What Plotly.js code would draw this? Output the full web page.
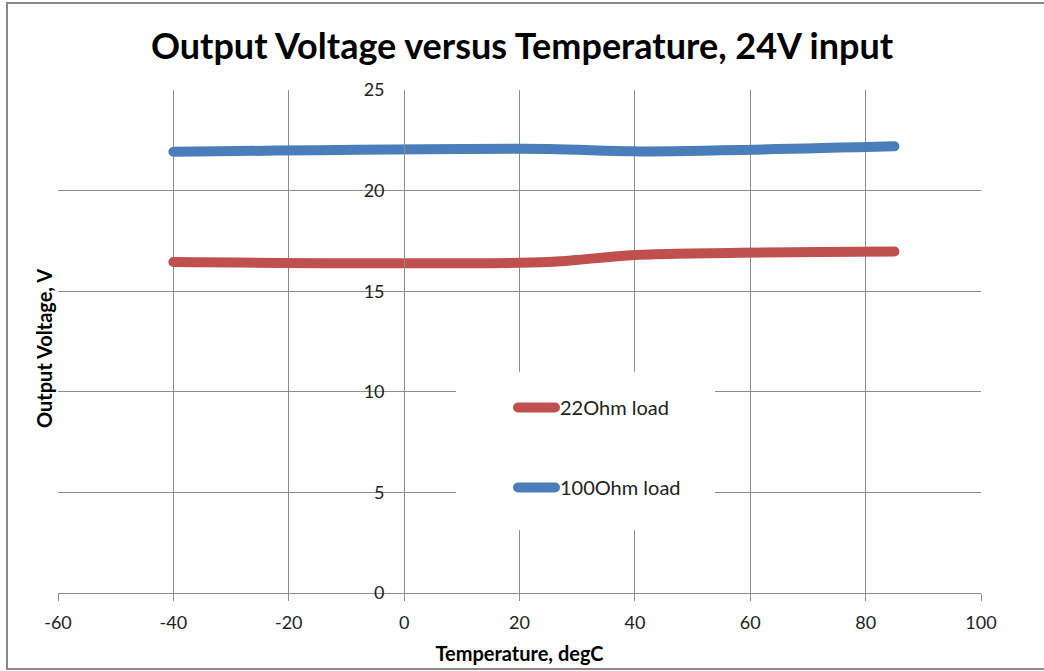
<!DOCTYPE html>
<html>
<head>
<meta charset="utf-8">
<script src="https://cdn.plot.ly/plotly-3.0.1.min.js"></script>
<style>
html,body{margin:0;padding:0;background:#fff;}
#chart{width:1044px;height:671px;}
#chart .scatterlayer .js-line, #chart .legendlines path{stroke-linecap:round;stroke-linejoin:round;}
</style>
</head>
<body>
<div id="chart"></div>
<script>
const temperature = [-40, 25, 40, 85];
const load22 = [16.45, 16.45, 16.8, 16.97];
const load100 = [21.93, 22.07, 21.95, 22.2];
const seriesNames = ["22Ohm load", "100Ohm load"];
const xTicks = [-60, -40, -20, 0, 20, 40, 60, 80, 100];
const xTickLabels = ["-60", "-40", "-20", "0", "20", "40", "60", "80", "100"];
const yTicks = [0, 5, 10, 15, 20, 25];

const FONT = "Lato, 'Open Sans', sans-serif";
const grid = "#8c8c8c";

const traces = [
  {x: temperature, y: load22, name: seriesNames[0], mode: "lines",
   line: {color: "#C0504D", width: 10, shape: "spline", smoothing: 0.8}, legendgroup: "a"},
  {x: temperature, y: load100, name: seriesNames[1], mode: "lines",
   line: {color: "#4A7EBB", width: 10, shape: "spline", smoothing: 0.8}, legendgroup: "b"}
];

const layout = {
  width: 1044, height: 671,
  margin: {l: 58, r: 63, t: 90, b: 78},
  paper_bgcolor: "#fff", plot_bgcolor: "#fff",
  font: {family: FONT, color: "#222"},
  title: {text: "<b>Output Voltage versus Temperature, 24V input</b>", font: {family: FONT, size: 36, color: "#000"},
          x: 0.5, xanchor: "center", y: 1 - 46/671, yanchor: "middle", yref: "container"},
  xaxis: {range: [-60, 100], tickvals: xTicks, ticktext: xTickLabels, showgrid: true, gridcolor: grid, gridwidth: 1,
          showline: true, linecolor: grid, linewidth: 1, zeroline: false,
          ticks: "outside", ticklen: 7, tickcolor: grid, tickfont: {size: 18, family: FONT, color: "#222"},
          ticklabelstandoff: 6,
          title: {text: "<b>Temperature, degC</b>", font: {size: 20, family: FONT, color: "#000"}, standoff: 15}},
  yaxis: {range: [0, 25], tickvals: yTicks, showgrid: true, gridcolor: grid, gridwidth: 1,
          anchor: "free", position: 0.375, showline: true, linecolor: grid, linewidth: 1, zeroline: false,
          ticks: "", tickfont: {size: 18, family: FONT, color: "#222"}, ticklabelstandoff: 16},
  showlegend: true,
  legend: {x: (513-58)/923, xanchor: "left", y: (593-388)/503, yanchor: "top",
           bgcolor: "rgba(0,0,0,0)", borderwidth: 0, traceorder: "grouped", tracegroupgap: 51,
           itemwidth: 37, font: {size: 20, family: FONT, color: "#222"}},
  shapes: [
    {type: "rect", xref: "paper", yref: "paper", x0: (456-58)/923, x1: (715-58)/923,
     y0: (593-530)/503, y1: (593-372)/503, fillcolor: "#fff", line: {width: 0}, layer: "above"},
    {type: "rect", xref: "paper", yref: "paper", x0: (7-58)/923, x1: (1060-58)/923,
     y0: (593-669)/503, y1: (593-3)/503, line: {color: "#888", width: 2}, fillcolor: "rgba(0,0,0,0)", layer: "above"}
  ],
  annotations: [
    {text: "<b>Output Voltage, V</b>", xref: "paper", yref: "paper", x: (44-58)/923, y: (593-349)/503,
     textangle: -90, showarrow: false, xanchor: "center", yanchor: "middle",
     font: {size: 20, family: FONT, color: "#000"}}
  ]
};

Plotly.newPlot("chart", traces, layout, {displayModeBar: false, staticPlot: true});
</script>
</body>
</html>
